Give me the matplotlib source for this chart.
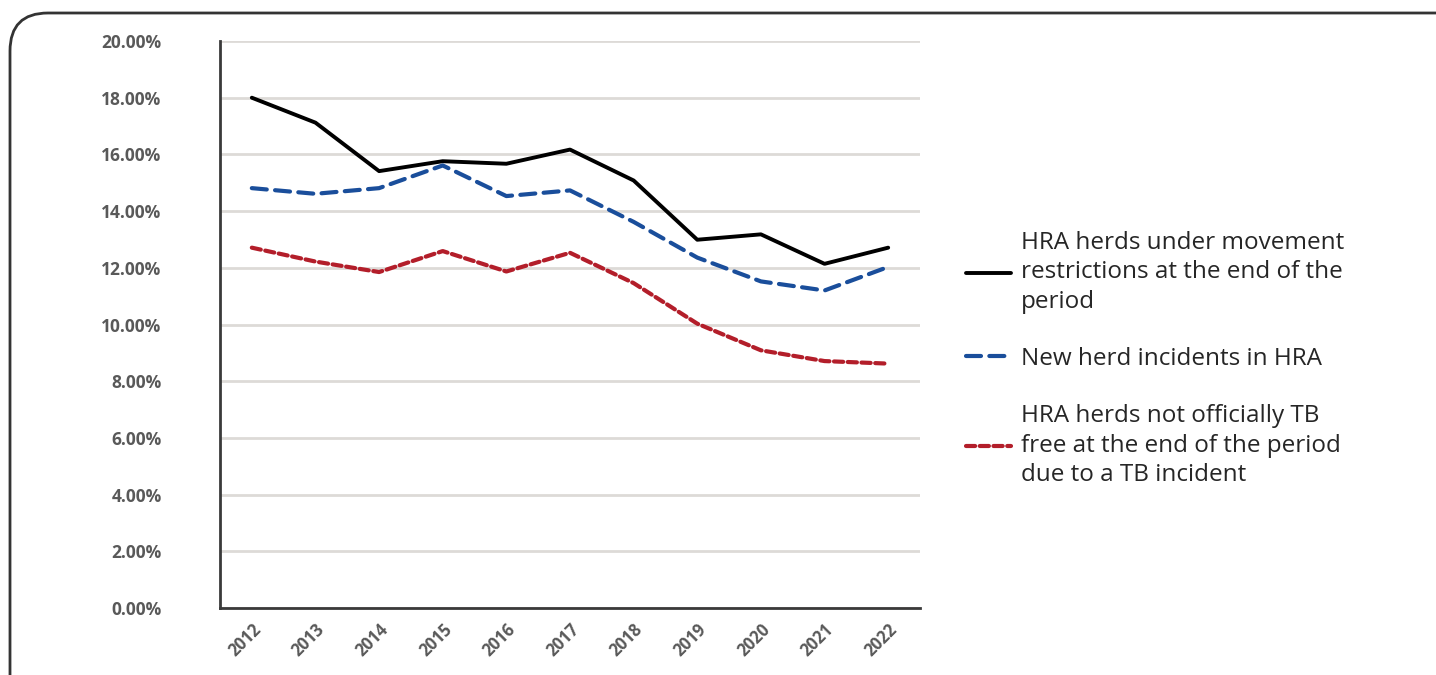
import matplotlib
matplotlib.use("Agg")
import matplotlib.pyplot as plt
from matplotlib.patches import FancyBboxPatch
from matplotlib.ticker import FuncFormatter

plt.rcParams['font.family'] = ['Open Sans', 'DejaVu Sans']

years = ["2012", "2013", "2014", "2015", "2016", "2017", "2018", "2019", "2020", "2021", "2022"]
restricted = [18.0, 17.12, 15.41, 15.76, 15.67, 16.17, 15.08, 12.99, 13.18, 12.14, 12.71]
new_incidents = [14.81, 14.61, 14.81, 15.61, 14.53, 14.73, 13.62, 12.36, 11.52, 11.2, 12.03]
not_tb_free = [12.71, 12.22, 11.85, 12.59, 11.87, 12.53, 11.46, 10.03, 9.09, 8.71, 8.62]

labels = [
    "HRA herds under movement\nrestrictions at the end of the\nperiod",
    "New herd incidents in HRA",
    "HRA herds not officially TB\nfree at the end of the period\ndue to a TB incident",
]

fig = plt.figure(figsize=(14.36, 6.75), dpi=100)

# rounded panel border, partly outside the canvas
frame = FancyBboxPatch((0.10, -1.0), 15.0, 7.62,
                       boxstyle="round,pad=0,rounding_size=0.38",
                       transform=fig.dpi_scale_trans, fill=False,
                       edgecolor="#333333", linewidth=2.0, clip_on=False)
fig.patches.append(frame)

ax = fig.add_axes([220 / 1436, 1 - 608 / 675, 700 / 1436, 567 / 675])
x = range(len(years))

ax.plot(x, restricted, color="#000000", lw=2.8, solid_capstyle="round", label=labels[0])
ax.plot(x, new_incidents, color="#1A4E9B", lw=3.0, dashes=(3.6, 2.0),
        dash_capstyle="round", label=labels[1])
ax.plot(x, not_tb_free, color="#B31E2A", lw=3.0, dashes=(2.2, 1.1),
        dash_capstyle="round", label=labels[2])

ax.set_xlim(-0.5, len(years) - 0.5)
ax.set_ylim(0, 20)
ax.set_yticks([i * 2 for i in range(11)])
ax.yaxis.set_major_formatter(FuncFormatter(lambda v, p: f"{v:.2f}%"))
ax.set_xticks(list(x))
ax.set_xticklabels(years, rotation=45, ha="right", rotation_mode="anchor")

ax.grid(axis="y", color="#DDDAD7", lw=2.0)
ax.set_axisbelow(True)
for s in ["top", "right"]:
    ax.spines[s].set_visible(False)
for s in ["left", "bottom"]:
    ax.spines[s].set_color("#3A3A3A")
    ax.spines[s].set_linewidth(2.0)

ax.tick_params(axis="y", length=0, pad=42, labelsize=12.5, labelcolor="#595959")
ax.tick_params(axis="x", length=0, pad=9, labelsize=12, labelcolor="#595959")
for t in ax.get_xticklabels() + ax.get_yticklabels():
    t.set_fontweight("bold")

leg = fig.legend(loc="center left", bbox_to_anchor=(966 / 1436, 1 - 359 / 675),
                 frameon=False, fontsize=17.5, handlelength=1.85, handletextpad=0.4,
                 labelspacing=1.35, borderpad=0, borderaxespad=0, labelcolor="#262626")
for t in leg.get_texts():
    t.set_linespacing(1.32)

fig.savefig("out.png", dpi=100)
